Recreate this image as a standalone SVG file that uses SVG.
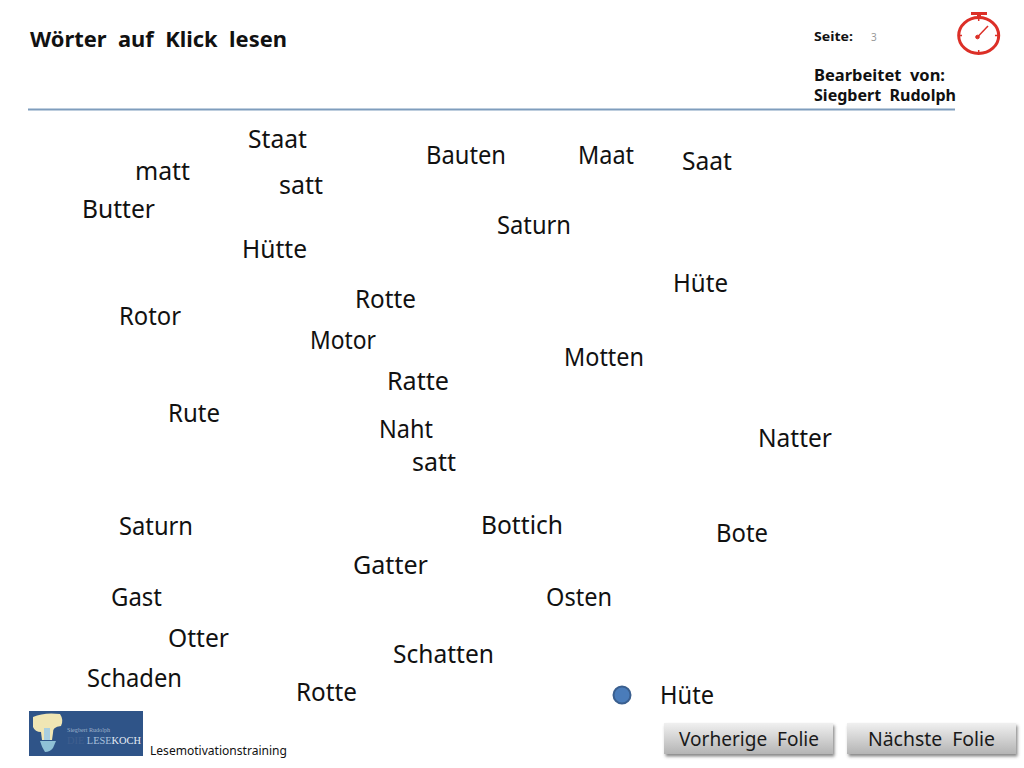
<svg xmlns="http://www.w3.org/2000/svg" width="1024" height="768" viewBox="0 0 1024 768">
<style>
text{font-family:"Noto Sans","Open Sans","DejaVu Sans",sans-serif;fill:#111}
.w{font-size:26px}
.b{font-weight:700}
.btn{font-size:19.5px;fill:#1a1a1a}
</style>
<defs>
<linearGradient id="g" x1="0" y1="0" x2="0" y2="1"><stop offset="0" stop-color="#f0f0f0"/><stop offset="1" stop-color="#b4b4b4"/></linearGradient>
<filter id="s" x="-5%" y="-20%" width="112%" height="150%"><feDropShadow dx="1.5" dy="2.5" stdDeviation="1.500" flood-color="#555" flood-opacity=".7"/></filter>
</defs>
<rect width="1024" height="768" fill="#fff"/>
<g id="header">
<text x="30" y="47" class="b" font-size="22" textLength="257" lengthAdjust="spacingAndGlyphs" xml:space="preserve">Wörter  auf  Klick  lesen</text>
<text x="814" y="41" class="b" font-size="13" textLength="39" lengthAdjust="spacingAndGlyphs">Seite:</text>
<text x="871" y="41" font-size="10" style="fill:#999">3</text>
<text x="814" y="81" class="b" font-size="16" textLength="131" lengthAdjust="spacingAndGlyphs" xml:space="preserve">Bearbeitet  von:</text>
<text x="814" y="101" class="b" font-size="16" textLength="142" lengthAdjust="spacingAndGlyphs" xml:space="preserve">Siegbert  Rudolph</text>
<line x1="28" y1="109.500" x2="955" y2="109.500" stroke="#7f9dbd" stroke-width="2"/>
</g>
<g id="timer" fill="none" stroke="#dc2f27">
<ellipse cx="978.700" cy="35.500" rx="20" ry="18" stroke-width="3"/>
<path d="M971 13.500H987" stroke-width="3"/><path d="M979 14V18" stroke-width="4"/>
<path d="M977.500 37L988 26" stroke-width="1.500"/><circle cx="977.500" cy="37" r="1.800" fill="#dc2f27"/>
<path d="M978.700 18v3M978.700 50v3M959 35.500h3M995 35.500h3" stroke-width="1.500"/>
</g>
<g id="words" class="w">
<text class="w" x="248" y="148" textLength="59" lengthAdjust="spacingAndGlyphs">Staat</text>
<text class="w" x="426" y="164" textLength="80" lengthAdjust="spacingAndGlyphs">Bauten</text>
<text class="w" x="578" y="164" textLength="56" lengthAdjust="spacingAndGlyphs">Maat</text>
<text class="w" x="682" y="170" textLength="50" lengthAdjust="spacingAndGlyphs">Saat</text>
<text class="w" x="135" y="180" textLength="55" lengthAdjust="spacingAndGlyphs">matt</text>
<text class="w" x="279" y="194" textLength="44" lengthAdjust="spacingAndGlyphs">satt</text>
<text class="w" x="82" y="218" textLength="73" lengthAdjust="spacingAndGlyphs">Butter</text>
<text class="w" x="497" y="234" textLength="74" lengthAdjust="spacingAndGlyphs">Saturn</text>
<text class="w" x="242" y="258" textLength="65" lengthAdjust="spacingAndGlyphs">Hütte</text>
<text class="w" x="673" y="292" textLength="55" lengthAdjust="spacingAndGlyphs">Hüte</text>
<text class="w" x="355" y="308" textLength="61" lengthAdjust="spacingAndGlyphs">Rotte</text>
<text class="w" x="119" y="325" textLength="62" lengthAdjust="spacingAndGlyphs">Rotor</text>
<text class="w" x="310" y="349" textLength="66" lengthAdjust="spacingAndGlyphs">Motor</text>
<text class="w" x="564" y="366" textLength="80" lengthAdjust="spacingAndGlyphs">Motten</text>
<text class="w" x="387" y="390" textLength="62" lengthAdjust="spacingAndGlyphs">Ratte</text>
<text class="w" x="168" y="422" textLength="52" lengthAdjust="spacingAndGlyphs">Rute</text>
<text class="w" x="379" y="438" textLength="54" lengthAdjust="spacingAndGlyphs">Naht</text>
<text class="w" x="758" y="447" textLength="74" lengthAdjust="spacingAndGlyphs">Natter</text>
<text class="w" x="412" y="471" textLength="44" lengthAdjust="spacingAndGlyphs">satt</text>
<text class="w" x="119" y="535" textLength="74" lengthAdjust="spacingAndGlyphs">Saturn</text>
<text class="w" x="481" y="534" textLength="82" lengthAdjust="spacingAndGlyphs">Bottich</text>
<text class="w" x="716" y="542" textLength="52" lengthAdjust="spacingAndGlyphs">Bote</text>
<text class="w" x="353" y="574" textLength="75" lengthAdjust="spacingAndGlyphs">Gatter</text>
<text class="w" x="111" y="606" textLength="51" lengthAdjust="spacingAndGlyphs">Gast</text>
<text class="w" x="546" y="606" textLength="66" lengthAdjust="spacingAndGlyphs">Osten</text>
<text class="w" x="168" y="647" textLength="61" lengthAdjust="spacingAndGlyphs">Otter</text>
<text class="w" x="393" y="663" textLength="101" lengthAdjust="spacingAndGlyphs">Schatten</text>
<text class="w" x="87" y="687" textLength="95" lengthAdjust="spacingAndGlyphs">Schaden</text>
<text class="w" x="296" y="701" textLength="61" lengthAdjust="spacingAndGlyphs">Rotte</text>
<text class="w" x="660" y="704" textLength="54" lengthAdjust="spacingAndGlyphs">Hüte</text>
</g>
<g id="dot"><circle cx="622" cy="695" r="8.500" fill="#4a7cba" stroke="#3a5f8f" stroke-width="2"/></g>
<g id="logo">
<rect x="29" y="711" width="114" height="45" fill="#2f5488"/>
<path d="M33 717Q44 712 60 714Q64 720 61 726Q52 727 53 733L52 740H42L41 732Q35 732 33 727Z" fill="#f0e6b4"/>
<path d="M44 728h6v12h-6z" fill="#a9cfe0"/>
<path d="M40 741h16l-3 7q-3 4 -8 4q-3 -4 -5 -11z" fill="#8fc1d6"/>
<text x="67" y="732" font-size="5.500" textLength="43" lengthAdjust="spacingAndGlyphs" style="fill:#9fb2cc;font-family:'Liberation Serif',serif">Siegbert Rudolph</text>
<text x="67" y="744" font-size="10" textLength="74" lengthAdjust="spacingAndGlyphs" style="font-family:'Liberation Serif',serif"><tspan style="fill:#3f5f8f">DIE </tspan><tspan style="fill:#a9c0dc">LESE</tspan><tspan style="fill:#e6ecf4">KOCH</tspan></text>
</g>
<text id="footer" x="150" y="755" font-size="12" textLength="137" lengthAdjust="spacingAndGlyphs">Lesemotivationstraining</text>
<g id="prev">
<rect x="664" y="723" width="169" height="31" fill="url(#g)" filter="url(#s)"/>
<text x="679" y="746" class="btn" textLength="140" lengthAdjust="spacingAndGlyphs" xml:space="preserve">Vorherige  Folie</text>
</g>
<g id="next">
<rect x="847" y="723" width="169" height="31" fill="url(#g)" filter="url(#s)"/>
<text x="868" y="746" class="btn" textLength="127" lengthAdjust="spacingAndGlyphs" xml:space="preserve">Nächste  Folie</text>
</g>
</svg>
